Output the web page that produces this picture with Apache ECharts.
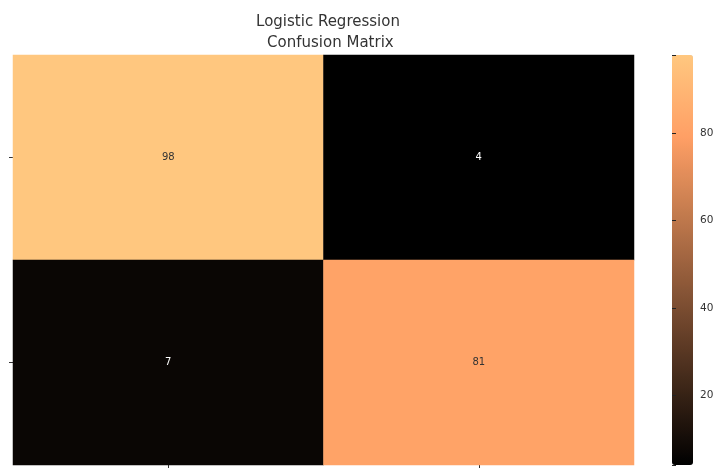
<!DOCTYPE html>
<html>
<head>
<meta charset="utf-8">
<script src="https://cdn.jsdelivr.net/npm/echarts@6/dist/echarts.min.js"></script>
<style>html,body{margin:0;padding:0;background:#fff;}#c{width:723px;height:468px;}</style>
</head>
<body>
<div id="c"></div>
<script>
const xCategories = ['0', '1'];
const yCategories = ['0', '1'];
const cellValues = [
  [0, 0, 98], [1, 0, 4],
  [0, 1, 7], [1, 1, 81]
];
const colorbarTicks = [20, 40, 60, 80];
const valueMin = 4;
const valueMax = 98;
const titleText = 'Logistic Regression\n Confusion Matrix';

// copper colormap, evenly spaced stops 0,0.2,...,1
const copper = ['#000000', '#402819', '#805033', '#bf784c', '#ff9f65', '#ffc77f'];

const chart = echarts.init(document.getElementById('c'), null, {renderer: 'canvas'});
chart.setOption({
  animation: false,
  title: {
    text: titleText,
    left: 323, textAlign: 'center', top: 7,
    textStyle: {fontFamily: 'DejaVu Sans', fontSize: 15, fontWeight: 'normal', color: '#333333', lineHeight: 21}
  },
  grid: [
    {left: 13, top: 55, width: 621, height: 410},
    {left: 672, top: 55, width: 21, height: 410}
  ],
  xAxis: [
    {type: 'category', gridIndex: 0, data: xCategories, position: 'bottom',
     axisLine: {show: false}, axisLabel: {show: false},
     axisTick: {show: true, alignWithLabel: true, length: 4, lineStyle: {color: '#333', width: 1}},
     splitLine: {show: false}},
    {type: 'value', gridIndex: 1, show: false}
  ],
  yAxis: [
    {type: 'category', gridIndex: 0, data: yCategories, inverse: true,
     axisLine: {show: false}, axisLabel: {show: false},
     axisTick: {show: true, alignWithLabel: true, length: 4, lineStyle: {color: '#333', width: 1}},
     splitLine: {show: false}},
    {type: 'value', gridIndex: 1, min: valueMin, max: valueMax, position: 'right', z: 10,
     axisLine: {show: false}, splitLine: {show: false},
     axisTick: {show: true, inside: false, length: 4, lineStyle: {color: '#222222', width: 1}},
     axisLabel: {show: true, customValues: colorbarTicks, margin: 7, fontFamily: 'DejaVu Sans', fontSize: 10.5, color: '#333333'}}
  ],
  visualMap: {
    type: 'continuous', seriesIndex: 0, min: valueMin, max: valueMax,
    calculable: false, show: true, orient: 'vertical',
    left: 672, top: 55, padding: 0, itemWidth: 21, itemHeight: 410,
    text: null, showLabel: false,
    inRange: {color: copper}
  },
  series: [{
    type: 'heatmap', xAxisIndex: 0, yAxisIndex: 0,
    data: cellValues.map(v => ({value: v, label: {color: v[2] < 50 ? '#ffffff' : '#333333'}})),
    label: {
      show: true, fontFamily: 'DejaVu Sans', fontSize: 10,
      formatter: p => String(p.value[2])
    },
    itemStyle: {borderWidth: 0},
    emphasis: {disabled: true}
  }]
});
</script>
</body>
</html>
